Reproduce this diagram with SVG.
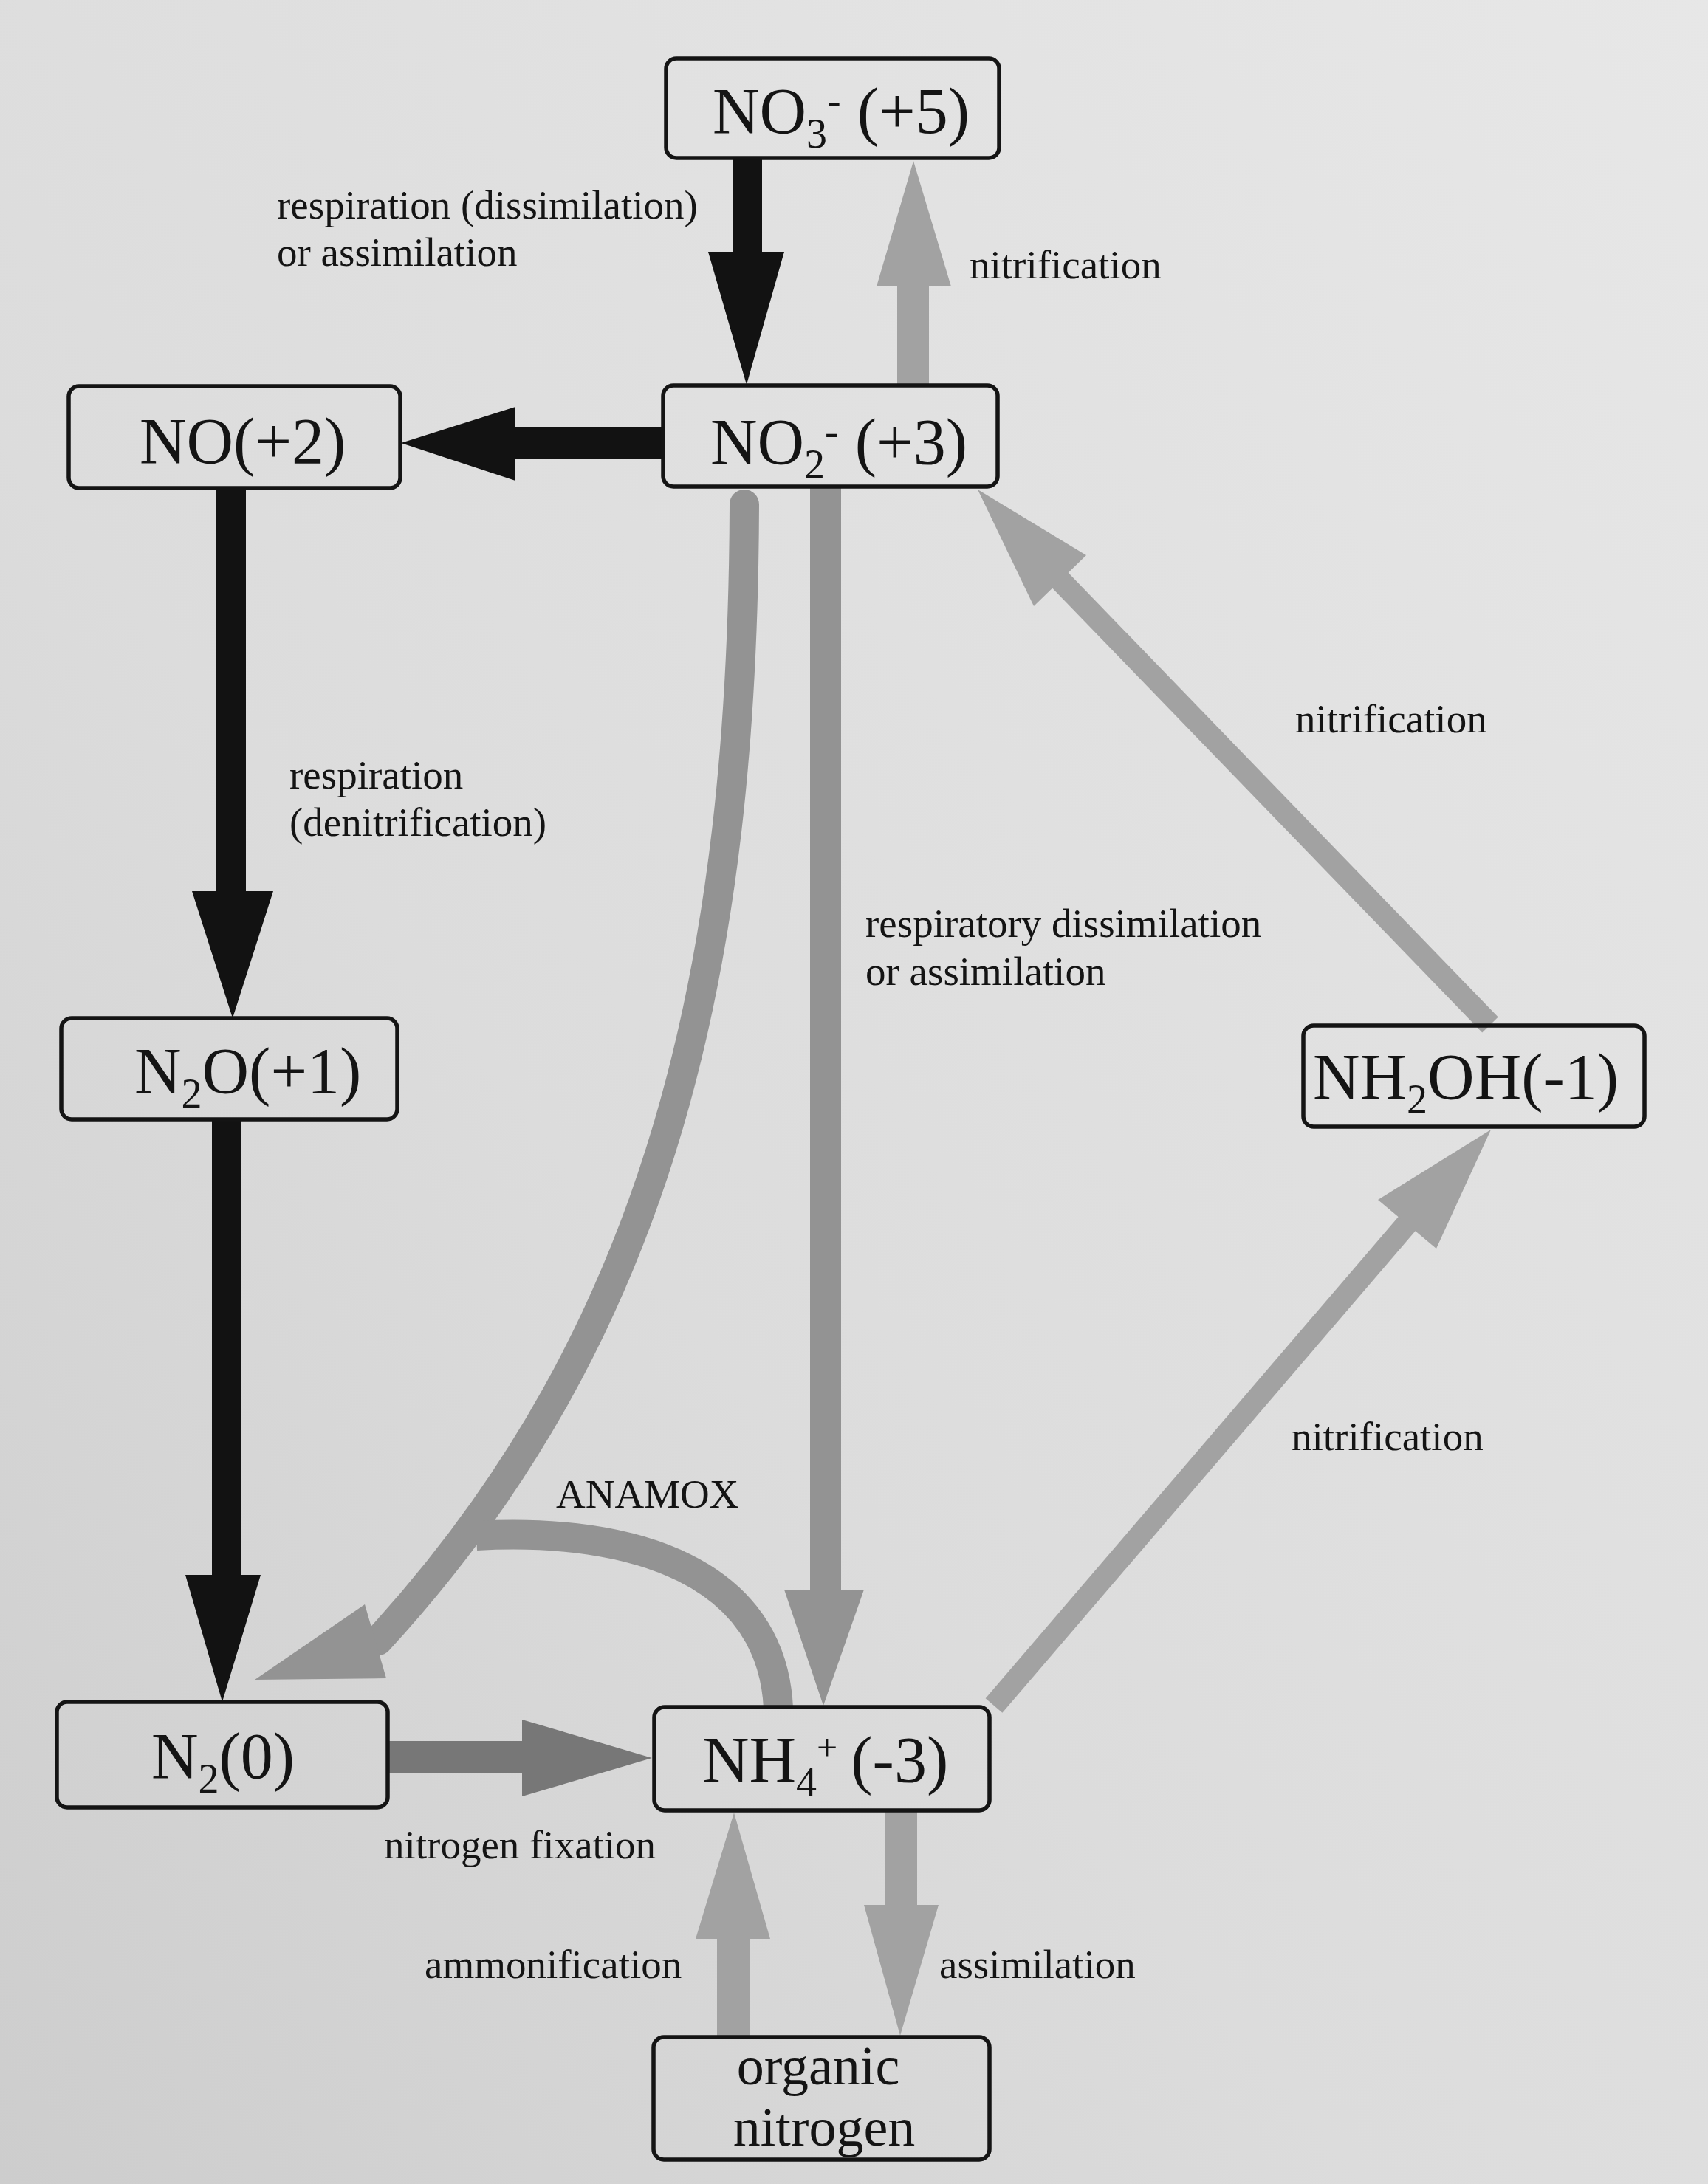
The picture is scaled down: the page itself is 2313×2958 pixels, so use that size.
<svg xmlns="http://www.w3.org/2000/svg" width="2313" height="2958" viewBox="0 0 2313 2958">
<defs>
<linearGradient id="bg" x1="1" y1="0" x2="0" y2="1">
<stop offset="0" stop-color="#e7e7e7"/>
<stop offset="0.6" stop-color="#dcdcdc"/>
<stop offset="1" stop-color="#cdcdcd"/>
</linearGradient>
</defs>
<style>
.box{fill:none;stroke:#141414;stroke-width:5.5}
.nt{font-family:"Liberation Serif","Times New Roman",serif;font-size:88px;fill:#141414}
.ot{font-family:"Liberation Serif","Times New Roman",serif;font-size:74px;fill:#141414}
.lbl{font-family:"Liberation Serif","Times New Roman",serif;font-size:55px;fill:#141414}
.blk{fill:#121212}
.gl{fill:#a2a2a2}
.gm{fill:#939393}
.gd{fill:#777777}
.sl{fill:none;stroke:#a2a2a2;stroke-width:30}
.sm{fill:none;stroke:#939393;stroke-width:40}
</style>
<rect x="0" y="0" width="2313" height="2958" fill="url(#bg)"/>

<g id="connectors">
<!-- NO3 -> NO2 (black) -->
<polygon class="blk" points="992,213 1032,213 1032,341 1062,341 1011,521 959,341 992,341"/>
<!-- NO2 -> NO (black) -->
<polygon class="blk" points="898,578 698,578 698,551 543,600 698,651 698,622 898,622"/>
<!-- NO -> N2O (black) -->
<polygon class="blk" points="293,660 333,660 333,1207 370,1207 315,1379 260,1207 293,1207"/>
<!-- N2O -> N2 (black) -->
<polygon class="blk" points="287,1515 326,1515 326,2133 353,2133 301,2305 251,2133 287,2133"/>
<!-- NO2 -> NO3 nitrification (gray) -->
<polygon class="gl" points="1215,522 1258,522 1258,388 1288,388 1237,218 1187,388 1215,388"/>
<!-- NH2OH -> NO2 nitrification -->
<line class="sl" x1="2018" y1="1388" x2="1430" y2="780"/>
<polygon class="gl" points="1471,752 1400,821 1324,663"/>
<!-- NH4 -> NH2OH nitrification -->
<line class="sl" x1="1346" y1="2310" x2="1910" y2="1652"/>
<polygon class="gl" points="1866,1625 1945,1691 2019,1530"/>
<!-- NO2 -> N2 curved + ANAMOX branch -->
<path class="sm" d="M1008,683 C1006,1300 900,1800 512,2222" stroke-linecap="round"/>
<path class="sm" d="M645,2080 C860,2068 1045,2130 1054,2313" stroke-width="38"/>
<polygon class="gm" points="494,2173 523,2273 345,2275"/>
<!-- NO2 -> NH4 straight -->
<polygon class="gm" points="1097,659 1139,659 1139,2153 1170,2153 1115,2310 1062,2153 1097,2153"/>
<!-- N2 -> NH4 nitrogen fixation -->
<polygon class="gd" points="526,2358 707,2358 707,2329 883,2381 707,2433 707,2401 526,2401"/>
<!-- NH4 -> organic nitrogen (assimilation) -->
<polygon class="gl" points="1198,2452 1242,2452 1242,2580 1271,2580 1219,2757 1170,2580 1198,2580"/>
<!-- organic nitrogen -> NH4 (ammonification) -->
<polygon class="gl" points="971,2759 1015,2759 1015,2626 1043,2626 994,2455 942,2626 971,2626"/>
</g>

<g id="labels">
<text class="lbl" x="375" y="296">respiration (dissimilation)</text>
<text class="lbl" x="375" y="360">or assimilation</text>
<text class="lbl" x="1313" y="377">nitrification</text>
<text class="lbl" x="392" y="1068">respiration</text>
<text class="lbl" x="392" y="1132">(denitrification)</text>
<text class="lbl" x="1754" y="992">nitrification</text>
<text class="lbl" x="1172" y="1269">respiratory dissimilation</text>
<text class="lbl" x="1172" y="1334">or assimilation</text>
<text class="lbl" x="1749" y="1964">nitrification</text>
<text class="lbl" x="753" y="2042">ANAMOX</text>
<text class="lbl" x="520" y="2517">nitrogen fixation</text>
<text class="lbl" x="575" y="2679">ammonification</text>
<text class="lbl" x="1272" y="2679">assimilation</text>
</g>

<g id="node-no3">
<rect class="box" x="902" y="79" width="451" height="135" rx="14"/>
<text class="nt" x="965" y="180">NO<tspan font-size="56" dy="20">3</tspan><tspan font-size="56" dy="-45">-</tspan><tspan dy="25"> (+5)</tspan></text>
</g>
<g id="node-no2">
<rect class="box" x="898" y="522" width="453" height="137" rx="14"/>
<text class="nt" x="962" y="628">NO<tspan font-size="56" dy="20">2</tspan><tspan font-size="56" dy="-45">-</tspan><tspan dy="25"> (+3)</tspan></text>
</g>
<g id="node-no">
<rect class="box" x="93" y="523" width="449" height="138" rx="14"/>
<text class="nt" x="189" y="627">NO(+2)</text>
</g>
<g id="node-n2o">
<rect class="box" x="83" y="1379" width="455" height="137" rx="14"/>
<text class="nt" x="182" y="1480">N<tspan font-size="56" dy="20">2</tspan><tspan dy="-20">O(+1)</tspan></text>
</g>
<g id="node-nh2oh">
<rect class="box" x="1765" y="1389" width="462" height="137" rx="14"/>
<text class="nt" x="1778" y="1488">NH<tspan font-size="56" dy="20">2</tspan><tspan dy="-20">OH(-1)</tspan></text>
</g>
<g id="node-n2">
<rect class="box" x="77" y="2305" width="448" height="143" rx="14"/>
<text class="nt" x="205" y="2408">N<tspan font-size="56" dy="20">2</tspan><tspan dy="-20">(0)</tspan></text>
</g>
<g id="node-nh4">
<rect class="box" x="886" y="2312" width="454" height="140" rx="14"/>
<text class="nt" x="951" y="2413">NH<tspan font-size="56" dy="20">4</tspan><tspan font-size="50" dy="-49">+</tspan><tspan dy="29" dx="18">(-3)</tspan></text>
</g>
<g id="node-organic">
<rect class="box" x="885" y="2759" width="455" height="166" rx="14"/>
<text class="ot" x="1108" y="2823" text-anchor="middle">organic</text>
<text class="ot" x="1116" y="2906" text-anchor="middle">nitrogen</text>
</g>
</svg>
